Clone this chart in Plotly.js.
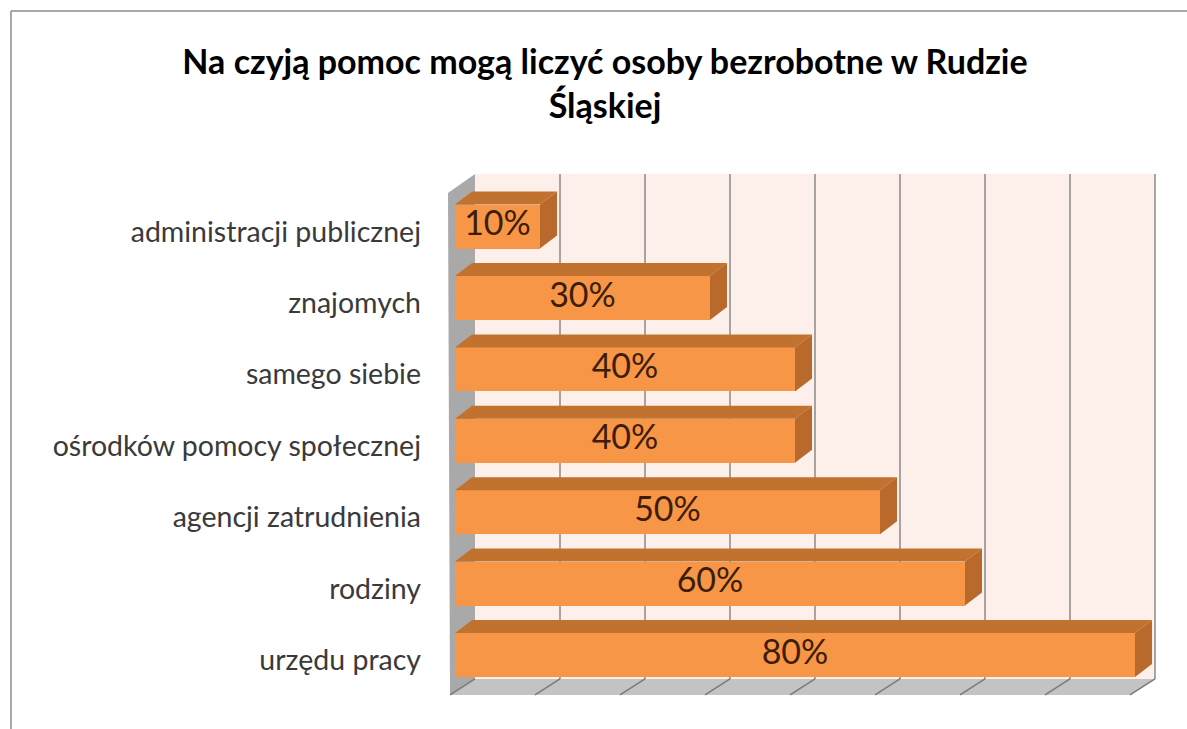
<!DOCTYPE html>
<html>
<head>
<meta charset="utf-8">
<script src="https://cdn.plot.ly/plotly-3.0.1.min.js"></script>
<style>html,body{margin:0;padding:0;background:#fff;}#chart{width:1187px;height:729px;}</style>
</head>
<body>
<div id="chart"></div>
<script>
// Data (bottom to top)
const categories = ["urzędu pracy", "rodziny", "agencji zatrudnienia", "ośrodków pomocy społecznej", "samego siebie", "znajomych", "administracji publicznej"];
const values = [80, 60, 50, 40, 40, 30, 10];
const valueLabels = ["80%", "60%", "50%", "40%", "40%", "30%", "10%"];
const axisTicks = [0, 10, 20, 30, 40, 50, 60, 70, 80];

// geometry (pixel -> data helpers)
const PXX = 8.5, X0 = 455;      // px per %, px of 0%
const PXY = 71.4, Y0 = 655;     // px per category, px of first category
const dxBar = 17 / PXX, dyBar = 13 / PXY, halfH = 22 / PXY;
const backX = 20 / PXX, backY = -0.336, wallTop = 6.737;
const floorFX = -5 / PXX, floorFY = -0.56;

const W = 1187, H = 729, ml = 430, mr = 18, mt = 155, mb = 24;
const xr = [(ml - X0) / PXX, (W - mr - X0) / PXX];
const yr = [(Y0 - (H - mb)) / PXY, (Y0 - mt) / PXY];

const pos = categories.map((c, i) => i);

const traces = [];
// front faces
traces.push({
  type: 'bar', orientation: 'h', x: values, y: pos, base: 0, width: 2 * halfH,
  marker: {color: '#f79646', line: {width: 0}}, hoverinfo: 'skip', showlegend: false
});
// top and side faces
values.forEach((v, i) => {
  const yt = i + halfH, yb = i - halfH;
  traces.push({
    type: 'scatter', mode: 'lines', fill: 'toself', fillcolor: '#c2722f',
    line: {width: 0, color: '#c2722f'},
    x: [0, v, v + dxBar, dxBar, 0], y: [yt, yt, yt + dyBar, yt + dyBar, yt],
    hoverinfo: 'skip', showlegend: false
  });
  traces.push({
    type: 'scatter', mode: 'lines', fill: 'toself', fillcolor: '#b8692b',
    line: {width: 0, color: '#b8692b'},
    x: [v, v + dxBar, v + dxBar, v, v], y: [yb, yb + dyBar, yt + dyBar, yt, yb],
    hoverinfo: 'skip', showlegend: false
  });
});
// value labels
traces.push({
  type: 'scatter', mode: 'text', x: values.map(v => v / 2), y: pos, text: valueLabels,
  textposition: 'middle center', textfont: {family: 'Lato, sans-serif', size: 34, color: '#3e1d06'},
  hoverinfo: 'skip', showlegend: false, cliponaxis: false
});

const shapes = [];
// back wall
shapes.push({type: 'rect', layer: 'below', xref: 'x', yref: 'y', x0: backX, x1: 80 + backX, y0: backY, y1: wallTop,
  fillcolor: '#fdf0ea', line: {width: 0}});
// back wall gridlines
axisTicks.slice(1).forEach(t => {
  shapes.push({type: 'line', layer: 'below', xref: 'x', yref: 'y', x0: t + backX, x1: t + backX, y0: backY, y1: wallTop,
    line: {color: '#8a8a8a', width: 1.5}});
});
// left wall
shapes.push({type: 'path', layer: 'below', xref: 'x', yref: 'y',
  path: `M ${-7/PXX} ${(Y0-193)/PXY} L ${backX} ${wallTop} L ${backX} ${backY} L ${floorFX} ${floorFY} Z`,
  fillcolor: '#a9a9a9', line: {width: 0}});
// floor
shapes.push({type: 'path', layer: 'below', xref: 'x', yref: 'y',
  path: `M ${floorFX} ${floorFY} L ${80 + floorFX} ${floorFY} L ${80 + backX} ${backY} L ${backX} ${backY} Z`,
  fillcolor: '#c3c3c3', line: {width: 0}});
axisTicks.forEach(t => {
  shapes.push({type: 'line', layer: 'below', xref: 'x', yref: 'y', x0: t + floorFX, x1: t + backX, y0: floorFY, y1: backY,
    line: {color: '#7a7a7a', width: 1.5}});
});
// outer frame (top and left)
const px2paperX = p => (p - ml) / (W - ml - mr);
const px2paperY = p => ((H - mb) - p) / (H - mt - mb);
shapes.push({type: 'line', xref: 'paper', yref: 'paper', x0: px2paperX(11), x1: px2paperX(W + 5), y0: px2paperY(11), y1: px2paperY(11),
  line: {color: '#8c8c8c', width: 1.5}});
shapes.push({type: 'line', xref: 'paper', yref: 'paper', x0: px2paperX(11), x1: px2paperX(11), y0: px2paperY(11), y1: px2paperY(H + 5),
  line: {color: '#8c8c8c', width: 1.5}});

const layout = {
  width: W, height: H, autosize: false,
  margin: {l: ml, r: mr, t: mt, b: mb, pad: 0},
  paper_bgcolor: '#ffffff', plot_bgcolor: 'rgba(0,0,0,0)',
  title: {text: 'Na czyją pomoc mogą liczyć osoby bezrobotne w Rudzie<br>Śląskiej',
    font: {family: 'Lato, sans-serif', size: 34, color: '#000', weight: 'bold'},
    x: 605 / W, xanchor: 'center', xref: 'container', y: 1 - 74 / H, yanchor: 'middle', yref: 'container'},
  xaxis: {range: xr, showgrid: false, zeroline: false, showticklabels: false, ticks: '', showline: false, fixedrange: true},
  yaxis: {range: yr, showgrid: false, zeroline: false, tickmode: 'array', tickvals: pos.map(p => p - 5 / PXY), ticktext: categories,
    ticks: '', showline: false, ticklabelstandoff: 8,
    tickfont: {family: 'Lato, sans-serif', size: 28.5, color: '#3a3a3a'}, fixedrange: true},
  shapes: shapes,
  showlegend: false, bargap: 0
};

Plotly.newPlot('chart', traces, layout, {displayModeBar: false, staticPlot: true});
</script>
</body>
</html>
